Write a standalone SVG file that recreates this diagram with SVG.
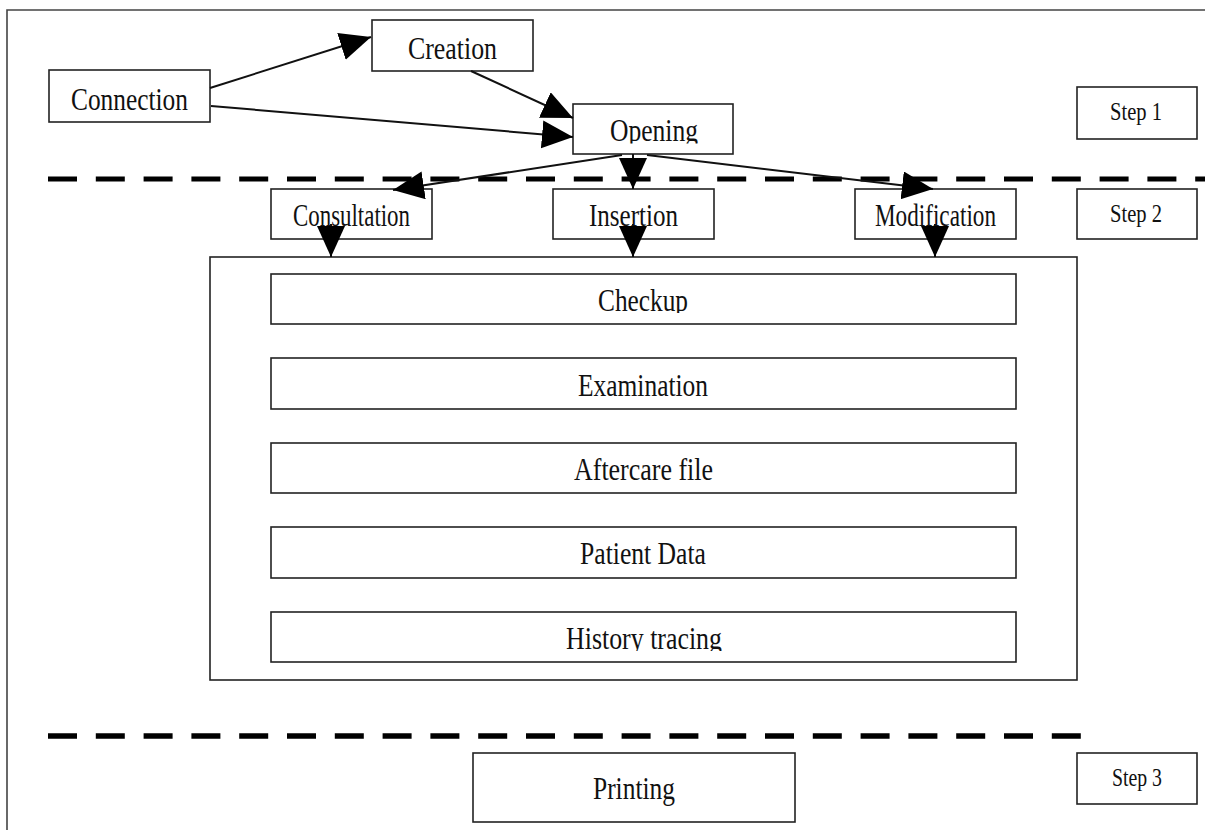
<svg xmlns="http://www.w3.org/2000/svg" width="1205" height="830" viewBox="0 0 1205 830">
<style>
.box{fill:#fff;stroke:#222;stroke-width:1.6}
.frame{fill:none;stroke:#444;stroke-width:1.6}
.t{font-family:"Liberation Serif","Times New Roman",serif;font-size:31px;fill:#111;text-anchor:middle}
.s{font-family:"Liberation Serif","Times New Roman",serif;font-size:26px;fill:#111;text-anchor:middle}
.dash{stroke:#000;stroke-width:5;stroke-dasharray:29 18.8;fill:none}
.c{stroke:#111;stroke-width:2;fill:none;marker-end:url(#ah)}
</style>
<defs>
<marker id="ah" markerUnits="userSpaceOnUse" markerWidth="33" markerHeight="30" refX="31" refY="14" orient="auto">
<path d="M0,0 L31,14 L0,28 z" fill="#000"/>
</marker>
<clipPath id="clipOpen"><rect x="573" y="104" width="160" height="39.5"/></clipPath>
<clipPath id="clipCheck"><rect x="271" y="274" width="745" height="39"/></clipPath>
<clipPath id="clipHist"><rect x="271" y="612" width="745" height="39"/></clipPath>
</defs>
<rect width="1205" height="830" fill="#fff"/>
<path class="frame" d="M7,830 L7,10 L1210,10"/>
<g id="separators">
<line class="dash" x1="48" y1="179" x2="1205" y2="179"/>
<line class="dash" x1="48" y1="736" x2="1081" y2="736" style="stroke-width:5.5"/>
</g>
<g id="container"><rect class="box" x="210" y="257" width="867" height="423"/></g>
<g id="connection"><rect class="box" x="49" y="70" width="161" height="52"/><text class="t" x="129.5" y="110" textLength="117" lengthAdjust="spacingAndGlyphs">Connection</text></g>
<g id="creation"><rect class="box" x="372" y="20" width="161" height="51"/><text class="t" x="452.5" y="59" textLength="89" lengthAdjust="spacingAndGlyphs">Creation</text></g>
<g id="opening"><rect class="box" x="573" y="104" width="160" height="50"/><text class="t" x="654" y="141" textLength="88" lengthAdjust="spacingAndGlyphs" clip-path="url(#clipOpen)">Opening</text></g>
<g id="step1"><rect class="box" x="1077" y="87" width="120" height="52"/><text class="s" x="1136" y="120" textLength="52" lengthAdjust="spacingAndGlyphs">Step 1</text></g>
<g id="consultation"><rect class="box" x="271" y="189" width="161" height="50"/><text class="t" x="351.5" y="226" textLength="117" lengthAdjust="spacingAndGlyphs">Consultation</text></g>
<g id="insertion"><rect class="box" x="553" y="189" width="161" height="50"/><text class="t" x="633.5" y="226" textLength="89" lengthAdjust="spacingAndGlyphs">Insertion</text></g>
<g id="modification"><rect class="box" x="855" y="189" width="161" height="50"/><text class="t" x="935.5" y="226" textLength="121" lengthAdjust="spacingAndGlyphs">Modification</text></g>
<g id="step2"><rect class="box" x="1077" y="189" width="120" height="50"/><text class="s" x="1136" y="222" textLength="52" lengthAdjust="spacingAndGlyphs">Step 2</text></g>
<g id="checkup"><rect class="box" x="271" y="274" width="745" height="50"/><text class="t" x="643" y="311" textLength="90" lengthAdjust="spacingAndGlyphs" clip-path="url(#clipCheck)">Checkup</text></g>
<g id="examination"><rect class="box" x="271" y="358" width="745" height="51"/><text class="t" x="643" y="396" textLength="130" lengthAdjust="spacingAndGlyphs">Examination</text></g>
<g id="aftercare"><rect class="box" x="271" y="443" width="745" height="50"/><text class="t" x="643.5" y="480" textLength="139" lengthAdjust="spacingAndGlyphs">Aftercare file</text></g>
<g id="patient"><rect class="box" x="271" y="527" width="745" height="51"/><text class="t" x="643" y="564" textLength="126" lengthAdjust="spacingAndGlyphs">Patient Data</text></g>
<g id="history"><rect class="box" x="271" y="612" width="745" height="50"/><text class="t" x="644" y="649" textLength="156" lengthAdjust="spacingAndGlyphs" clip-path="url(#clipHist)">History tracing</text></g>
<g id="printing"><rect class="box" x="473" y="753" width="322" height="69"/><text class="t" x="634" y="799" textLength="82" lengthAdjust="spacingAndGlyphs">Printing</text></g>
<g id="step3"><rect class="box" x="1077" y="753" width="120" height="51"/><text class="s" x="1137" y="786" textLength="50" lengthAdjust="spacingAndGlyphs">Step 3</text></g>
<g id="connectors">
<line class="c" x1="210" y1="88" x2="371" y2="37"/>
<line class="c" x1="211" y1="106" x2="573" y2="137"/>
<line class="c" x1="471" y1="71" x2="573" y2="118"/>
<line class="c" x1="622" y1="155" x2="393" y2="190"/>
<line class="c" x1="633" y1="154" x2="633" y2="189"/>
<line class="c" x1="647" y1="155" x2="933" y2="189"/>
<line class="c" x1="331" y1="224" x2="331" y2="257"/>
<line class="c" x1="633" y1="224" x2="633" y2="257"/>
<line class="c" x1="935" y1="224" x2="935" y2="257"/>
</g>
</svg>
